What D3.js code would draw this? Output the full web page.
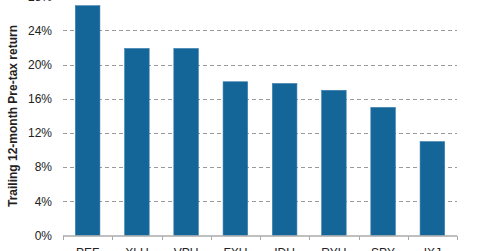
<!DOCTYPE html>
<html lang="en">
<head>
    <meta charset="UTF-8">
    <title>Trailing returns</title>
    <script src="https://cdn.jsdelivr.net/npm/d3@7"></script>
</head>
<style>
    body { margin: 0; background: #fff; }
    .chart text {
        font-family: Arial, "Liberation Sans", sans-serif;
        font-size: 12px;
        fill: #222;
    }
</style>
<body>
<svg class="chart"></svg>
<script>
    let categories = ['PEF', 'XLU', 'VPU', 'FXU', 'IDU', 'RYU', 'SPY', 'IXJ'];
    let returns = [26.9, 21.9, 21.9, 18.0, 17.8, 17.0, 15.0, 11.0];
    let yTicks = [0, 4, 8, 12, 16, 20, 24, 28];

    let width = 480,
        height = 251;

    let svg = d3.select('.chart')
        .attr('width', width)
        .attr('height', height);

    let x = d3.scaleBand()
        .domain(categories)
        .range([63, 457])
        .paddingInner(0.5)
        .paddingOuter(0.25);

    let y = d3.scaleLinear()
        .domain([0, 28])
        .range([235.5, -3.7]);

    // grid lines (dashed)
    svg.append('g').selectAll('line')
        .data(yTicks.filter(d => d > 0))
        .enter().append('line')
        .attr('x1', 63)
        .attr('x2', 457)
        .attr('y1', d => Math.round(y(d)) + 0.5)
        .attr('y2', d => Math.round(y(d)) + 0.5)
        .attr('stroke', '#9a9a9a')
        .attr('stroke-dasharray', '4,3');

    // y tick labels
    svg.append('g').selectAll('text')
        .data(yTicks)
        .enter().append('text')
        .attr('x', 52)
        .attr('y', d => y(d))
        .attr('dy', '.35em')
        .attr('text-anchor', 'end')
        .text(d => d + '%');

    // bars
    svg.append('g').selectAll('rect')
        .data(returns)
        .enter().append('rect')
        .attr('x', (d, i) => x(categories[i]))
        .attr('width', x.bandwidth())
        .attr('y', d => y(d))
        .attr('height', d => y(0) - y(d))
        .attr('fill', '#146699')
        .attr('stroke', '#3f80b0')
        .attr('stroke-width', 0.6);

    // x axis baseline + ticks at band boundaries
    let axis = svg.append('g');
    axis.append('line')
        .attr('x1', 63).attr('x2', 457)
        .attr('y1', 236).attr('y2', 236)
        .attr('stroke', '#aaa')
        .attr('stroke-width', 1.5);
    let step = x.step();
    axis.selectAll('.tk')
        .data(d3.range(categories.length + 1))
        .enter().append('line')
        .attr('x1', i => Math.round(63 + i * (394 / categories.length)) + 0.5)
        .attr('x2', i => Math.round(63 + i * (394 / categories.length)) + 0.5)
        .attr('y1', 236)
        .attr('y2', 240)
        .attr('stroke', '#aaa');

    // category labels
    svg.append('g').selectAll('text')
        .data(categories)
        .enter().append('text')
        .attr('x', d => x(d) + x.bandwidth() / 2)
        .attr('y', 257)
        .attr('text-anchor', 'middle')
        .text(d => d);

    // y axis title
    svg.append('text')
        .attr('transform', 'translate(17,116) rotate(-90)')
        .attr('text-anchor', 'middle')
        .style('font-weight', 'bold')
        .text('Trailing 12-month Pre-tax return');
</script>
</body>
</html>
